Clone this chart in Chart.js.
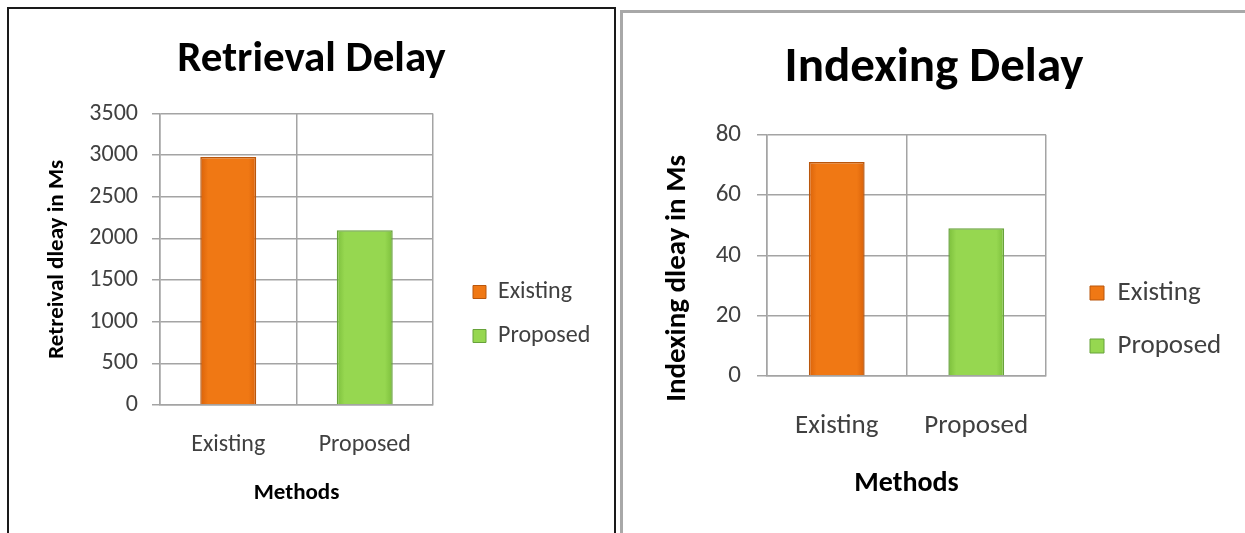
<!DOCTYPE html>
<html>
<head>
<meta charset="utf-8">
<script src="https://cdn.jsdelivr.net/npm/chart.js@4.4.1/dist/chart.umd.min.js"></script>
<style>
  html, body { margin: 0; padding: 0; background: #fff; width: 1245px; height: 533px; overflow: hidden; }
  .panel { position: absolute; box-sizing: border-box; }
  #p1 { left: 7px; top: 7px; width: 609px; height: 560px; border: 2px solid #1a1a1a; }
  #p2 { left: 620px; top: 10px; width: 660px; height: 560px; border: 3px solid #a8a8a8; }
  canvas { position: absolute; }
  #c1 { left: 10px; top: 10px; }
  #c2 { left: 623px; top: 13px; }
</style>
</head>
<body>
<div class="panel" id="p1"></div>
<div class="panel" id="p2"></div>
<canvas id="c1" width="603" height="523"></canvas>
<canvas id="c2" width="622" height="520"></canvas>
<script>
// ---- data ----
const categories = ['Existing', 'Proposed'];
const seriesNames = ['Existing', 'Proposed'];
const retrievalValues = [2980, 2100];
const indexingValues = [71, 49];
const retrievalTicks = [0, 500, 1000, 1500, 2000, 2500, 3000, 3500];
const indexingTicks = [0, 20, 40, 60, 80];
const retrievalTitle = 'Retrieval Delay';
const indexingTitle = 'Indexing Delay';
const retrievalYTitle = 'Retreival dleay in Ms';
const indexingYTitle = 'Indexing dleay in Ms';
const xTitle = 'Methods';

// ---- style ----
const FONT = 'Carlito, Lato, "Open Sans", sans-serif';
const fills = ['#F07814', '#96D750'];
const edges = ['#D9620A', '#7CBF3C'];
const borders = ['#B9560C', '#67A23A'];
const gridColor = '#a4a4a4';

const placeBlocks = {
  id: 'placeBlocks',
  afterLayout(chart, args, opts) {
    const tb = chart.titleBlock;
    if (tb) { tb.left = 0; tb.right = chart.width; tb.width = chart.width; }
    const lg = chart.legend;
    if (!lg) return;
    const lab = chart.options.plugins.legend.labels;
    const p = lab.padding, fs = lab.font.size;
    const w = lg.width, h = lg.height;
    lg.left = opts.x - p; lg.right = lg.left + w;
    lg.top = opts.y - p - fs / 2; lg.bottom = lg.top + h;
  }
};

function build(canvasId, values, ticks, s) {
  const datasets = seriesNames.map((name, i) => ({
    label: name,
    data: categories.map((c, j) => (j === i ? values[j] : null)),
    backgroundColor(c) {
      const ch = c.chart, xs = ch.scales && ch.scales.x;
      if (c.type !== 'data' || !xs || !ch.chartArea) return fills[i];
      const cx = xs.getPixelForValue(c.dataIndex);
      const half = (ch.chartArea.width / categories.length) * s.barPct / 2;
      if (!isFinite(cx) || !isFinite(half)) return fills[i];
      const g = ch.ctx.createLinearGradient(cx - half, 0, cx + half, 0);
      g.addColorStop(0, edges[i]); g.addColorStop(0.14, fills[i]);
      g.addColorStop(0.86, fills[i]); g.addColorStop(1, edges[i]);
      return g;
    },
    borderColor: borders[i],
    borderWidth: 1.5,
    barPercentage: s.barPct,
    categoryPercentage: 1
  }));
  return new Chart(document.getElementById(canvasId), {
    type: 'bar',
    data: { labels: categories, datasets },
    plugins: [placeBlocks],
    options: {
      responsive: false,
      animation: false,
      events: [],
      layout: { padding: { left: 0, top: 0, bottom: 0, right: s.padRight } },
      datasets: { bar: { grouped: false } },
      plugins: {
        tooltip: { enabled: false },
        title: {
          display: true, text: s.title, color: '#000',
          font: { family: FONT, size: s.titleSize, weight: 'bold' },
          padding: { top: s.titlePadTop, bottom: s.titlePadBottom }
        },
        legend: {
          display: true, position: 'chartArea', align: 'start',
          labels: {
            color: '#404040', boxWidth: s.box, boxHeight: s.box, padding: s.legPad,
            font: { family: FONT, size: s.legSize },
            generateLabels(chart) {
              return Chart.defaults.plugins.legend.labels.generateLabels(chart)
                .map((l, i) => Object.assign(l, { fillStyle: fills[i], strokeStyle: borders[i], lineWidth: 1 }));
            }
          }
        },
        placeBlocks: { x: s.legX, y: s.legY }
      },
      scales: {
        x: {
          offset: true,
          grid: { display: true, offset: true, drawTicks: false, color: gridColor, lineWidth: 1.5 },
          border: { display: true, color: gridColor, width: 1.5 },
          ticks: { color: '#404040', padding: s.xTickPad, font: { family: FONT, size: s.xTickSize } },
          title: {
            display: true, text: xTitle, color: '#000',
            font: { family: FONT, size: s.axTitleSize, weight: 'bold' },
            padding: { top: 0, bottom: s.xTitlePadBottom }
          },
          afterFit(scale) { scale.height = s.xHeight; }
        },
        y: {
          min: ticks[0], max: ticks[ticks.length - 1],
          afterBuildTicks(scale) { scale.ticks = ticks.map(v => ({ value: v })); },
          grid: { color: gridColor, lineWidth: 1.5, tickLength: s.tickLen },
          border: { display: true, color: gridColor, width: 1.5 },
          ticks: {
            color: '#404040', padding: s.yTickPad, font: { family: FONT, size: s.yTickSize },
            callback: v => String(v)
          },
          title: {
            display: true, text: s.yTitle, color: '#000',
            font: { family: FONT, size: s.yTitleSize, weight: 'bold' },
            padding: { top: s.yTitlePadTop, bottom: 0 }
          },
          afterFit(scale) { scale.width = s.yWidth; }
        }
      }
    }
  });
}

build('c1', retrievalValues, retrievalTicks, {
  title: retrievalTitle, yTitle: retrievalYTitle,
  titleSize: 43, titlePadTop: 24, titlePadBottom: 28,
  padRight: 180, yWidth: 150, xHeight: 128,
  yTickSize: 24, xTickSize: 24, axTitleSize: 23, yTitleSize: 23, legSize: 24,
  xTickPad: 26, xTitlePadBottom: 26, yTickPad: 14, tickLen: 8, yTitlePadTop: 33,
  box: 13, legPad: 20, legX: 463, legY: 282, barPct: 0.41
});

build('c2', indexingValues, indexingTicks, {
  title: indexingTitle, yTitle: indexingYTitle + '       ',
  titleSize: 49, titlePadTop: 26, titlePadBottom: 37,
  padRight: 199, yWidth: 144, xHeight: 157,
  yTickSize: 25, xTickSize: 27, axTitleSize: 28, yTitleSize: 29, legSize: 27,
  xTickPad: 34, xTitlePadBottom: 32, yTickPad: 16, tickLen: 10, yTitlePadTop: 37,
  box: 14, legPad: 26, legX: 467, legY: 280, barPct: 0.40
});
</script>
</body>
</html>
